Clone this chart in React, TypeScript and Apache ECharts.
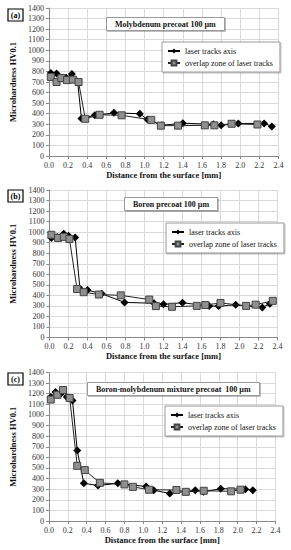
import React, { useEffect, useRef } from "react";
import * as echarts from "echarts";

// Panel (a): Molybdenum precoat 100 µm
const aAxisX = [0.02, 0.08, 0.18, 0.24, 0.30, 0.34, 0.48, 0.68, 0.95, 1.03, 1.18, 1.40, 1.72, 1.80, 1.98, 2.25, 2.33];
const aAxisY = [785, 780, 740, 775, 705, 355, 385, 408, 400, 345, 290, 310, 300, 290, 308, 308, 280];
const aOverlapX = [0.02, 0.08, 0.13, 0.19, 0.25, 0.31, 0.38, 0.53, 0.76, 1.07, 1.17, 1.35, 1.63, 1.73, 1.91, 2.18];
const aOverlapY = [748, 700, 738, 718, 722, 700, 352, 390, 385, 342, 287, 287, 290, 290, 305, 298];

// Panel (b): Boron precoat 100 µm
const bAxisX = [0.02, 0.08, 0.15, 0.20, 0.27, 0.32, 0.40, 0.55, 0.79, 1.10, 1.20, 1.40, 1.68, 1.78, 1.96, 2.24, 2.32];
const bAxisY = [945, 955, 985, 965, 950, 465, 450, 415, 333, 325, 315, 330, 298, 298, 310, 285, 320];
const bOverlapX = [0.02, 0.09, 0.15, 0.21, 0.29, 0.36, 0.52, 0.75, 1.05, 1.12, 1.29, 1.55, 1.64, 1.80, 2.07, 2.17, 2.35];
const bOverlapY = [975, 945, 955, 935, 460, 430, 408, 400, 360, 298, 292, 300, 308, 328, 300, 312, 348];

// Panel (c): Boron-molybdenum mixture precoat 100 µm
const cAxisX = [0.02, 0.07, 0.13, 0.19, 0.25, 0.30, 0.37, 0.52, 0.73, 1.03, 1.11, 1.28, 1.55, 1.64, 1.82, 2.08, 2.16];
const cAxisY = [1170, 1215, 1205, 1170, 1135, 665, 355, 335, 355, 325, 290, 260, 290, 275, 305, 300, 290];
const cOverlapX = [0.02, 0.09, 0.15, 0.22, 0.30, 0.38, 0.54, 0.80, 0.89, 1.06, 1.35, 1.45, 1.64, 1.93, 2.03];
const cOverlapY = [1145, 1190, 1235, 1160, 520, 480, 360, 345, 322, 295, 292, 275, 285, 280, 295];

const panelTitles = ["Molybdenum precoat 100 µm", "Boron precoat 100 µm", "Boron-molybdenum mixture precoat  100 µm"];
const panelLabels = ["(a)", "(b)", "(c)"];
const seriesNames = ["laser tracks axis", "overlap zone of laser tracks"];
const xAxisName = "Distance from the surface [mm]";
const yAxisName = "Microhardness HV0.1";

const zip = (xs: number[], ys: number[]) => xs.map((x, i) => [x, ys[i]]);

const FONT = "Liberation Serif";

export default function App() {
  const ref = useRef<HTMLDivElement>(null);
  useEffect(() => {
    if (!ref.current) return;
    const chart = echarts.init(ref.current, undefined, { renderer: "svg" });

    const grids = [
      { left: 48.5, right: 12.5, top: 8, height: 148 },
      { left: 49.5, right: 13.5, top: 190, height: 147.5 },
      { left: 48, right: 15.5, top: 372.5, height: 148.5 },
    ];
    const titleBoxes = [
      { left: 106, top: 17 },
      { left: 124, top: 197 },
      { left: 87, top: 382 },
    ];
    const legendPos = [
      { left: 162, top: 42 },
      { left: 166, top: 223 },
      { left: 165, top: 406 },
    ];
    const labelBoxTops = [9, 190, 373];

    const data = [
      [zip(aAxisX, aAxisY), zip(aOverlapX, aOverlapY)],
      [zip(bAxisX, bAxisY), zip(bOverlapX, bOverlapY)],
      [zip(cAxisX, cAxisY), zip(cOverlapX, cOverlapY)],
    ];

    const xAxes = grids.map((_, i) => ({
      type: "value",
      gridIndex: i,
      min: 0,
      max: 2.4,
      interval: 0.2,
      name: xAxisName,
      nameLocation: "middle",
      nameGap: 14,
      nameTextStyle: { fontFamily: FONT, fontWeight: "bold", fontSize: 8.5, color: "#111" },
      axisLine: { lineStyle: { color: "#888", width: 1 } },
      axisTick: { show: true, length: 3, lineStyle: { color: "#888" } },
      axisLabel: { fontFamily: FONT, fontSize: 8, color: "#333", margin: 5, formatter: (v: number) => v.toFixed(1) },
      splitLine: { show: true, lineStyle: { color: "#d9d9d9", width: 1 } },
    }));
    const yAxes = grids.map((_, i) => ({
      type: "value",
      gridIndex: i,
      min: 0,
      max: 1400,
      interval: 100,
      name: yAxisName,
      nameLocation: "middle",
      nameGap: 23,
      nameTextStyle: { fontFamily: FONT, fontWeight: "bold", fontSize: 8.5, color: "#111" },
      axisLine: { show: true, lineStyle: { color: "#888", width: 1 } },
      axisTick: { show: true, length: 3, lineStyle: { color: "#888" } },
      axisLabel: { fontFamily: FONT, fontSize: 8, color: "#333", margin: 5, formatter: (v: number) => String(v) },
      splitLine: { show: true, lineStyle: { color: "#d9d9d9", width: 1 } },
    }));

    const series: any[] = [];
    data.forEach((pair, i) => {
      series.push({
        type: "line",
        name: seriesNames[0],
        xAxisIndex: i,
        yAxisIndex: i,
        data: pair[0],
        symbol: "diamond",
        symbolSize: [8, 8],
        lineStyle: { color: "#000", width: 1 },
        itemStyle: { color: "#000" },
        z: 2,
      });
      series.push({
        type: "line",
        name: seriesNames[1],
        xAxisIndex: i,
        yAxisIndex: i,
        data: pair[1],
        symbol: "rect",
        symbolSize: 7,
        lineStyle: { color: "#222", width: 1 },
        itemStyle: { color: "#8f8f8f", borderColor: "#444", borderWidth: 1 },
        z: 3,
      });
    });

    const legends = legendPos.map((p) => ({
      left: p.left,
      top: p.top,
      orient: "vertical",
      data: seriesNames,
      itemWidth: 12,
      itemHeight: 6,
      itemGap: 4,
      padding: [5, 7, 5, 5],
      backgroundColor: "#fff",
      borderColor: "#999",
      borderWidth: 1,
      shadowColor: "rgba(0,0,0,0.25)",
      shadowOffsetX: 1,
      shadowOffsetY: 1,
      shadowBlur: 1,
      textStyle: { fontFamily: FONT, fontSize: 8, color: "#111" },
      selectedMode: false,
    }));

    const titles = titleBoxes.map((t, i) => ({
      text: panelTitles[i],
      left: t.left,
      top: t.top,
      padding: [3, 9, 3, 9],
      backgroundColor: "#fff",
      borderColor: "#999",
      borderWidth: 1,
      shadowColor: "rgba(0,0,0,0.25)",
      shadowOffsetX: 1,
      shadowOffsetY: 1,
      shadowBlur: 1,
      textStyle: { fontFamily: FONT, fontSize: 8, fontWeight: "bold", color: "#111" },
    }));

    const graphics: any[] = [];
    labelBoxTops.forEach((top, i) => {
      graphics.push({
        type: "rect",
        shape: { x: 8, y: top, width: 15, height: 12 },
        style: { fill: "#fff", stroke: "#000", lineWidth: 1.2 },
      });
      graphics.push({
        type: "text",
        x: 15.5,
        y: top + 6,
        style: {
          text: panelLabels[i],
          fontFamily: FONT,
          fontSize: 8,
          fontWeight: "bold",
          fill: "#000",
          align: "center",
          verticalAlign: "middle",
        },
      });
    });

    chart.setOption({
      animation: false,
      backgroundColor: "#fff",
      title: titles,
      legend: legends,
      grid: grids,
      xAxis: xAxes,
      yAxis: yAxes,
      series,
      graphic: graphics,
    });
    return () => chart.dispose();
  }, []);

  return (
    <div
      ref={ref}
      style={{ position: "fixed", left: 0, top: 0, width: 291, height: 550, background: "#fff" }}
    />
  );
}
